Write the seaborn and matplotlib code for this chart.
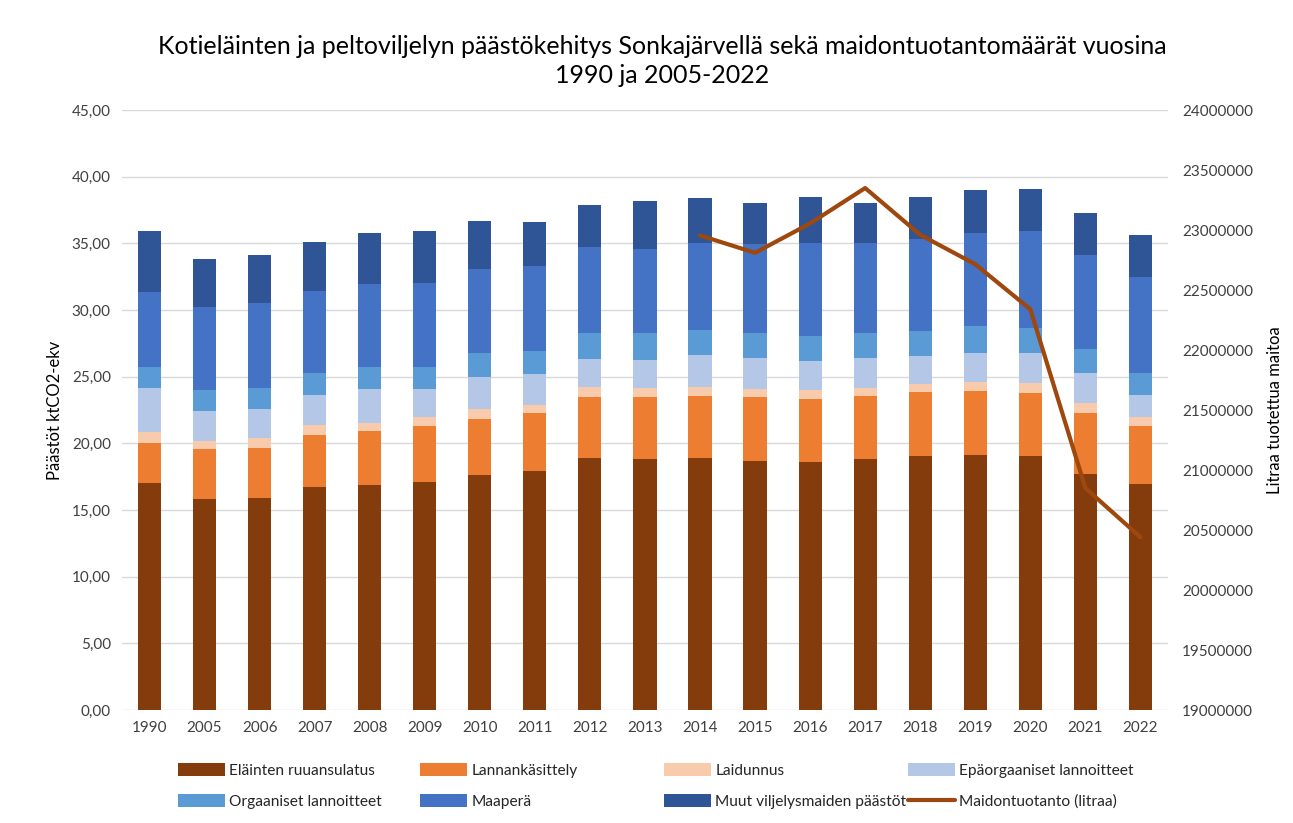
import matplotlib
matplotlib.use("Agg")
import matplotlib.pyplot as plt
import seaborn as sns
import numpy as np
import pandas as pd
from matplotlib.patches import Patch
from matplotlib.lines import Line2D
from matplotlib.ticker import FuncFormatter, MultipleLocator

years = ["1990", "2005", "2006", "2007", "2008", "2009", "2010", "2011", "2012", "2013",
         "2014", "2015", "2016", "2017", "2018", "2019", "2020", "2021", "2022"]

elainten = [17.0, 15.8, 15.9, 16.7, 16.9, 17.1, 17.6, 17.9, 18.9, 18.85,
            18.9, 18.7, 18.6, 18.85, 19.05, 19.1, 19.05, 17.7, 16.95]
lannank = [3.05, 3.75, 3.75, 3.95, 4.0, 4.2, 4.25, 4.35, 4.6, 4.6,
           4.65, 4.75, 4.7, 4.7, 4.8, 4.8, 4.7, 4.6, 4.35]
laidunnus = [0.8, 0.65, 0.75, 0.7, 0.65, 0.7, 0.7, 0.65, 0.75, 0.7,
             0.7, 0.65, 0.7, 0.6, 0.6, 0.7, 0.8, 0.7, 0.7]
epaorg = [3.3, 2.25, 2.2, 2.3, 2.5, 2.05, 2.4, 2.3, 2.05, 2.1,
          2.35, 2.3, 2.2, 2.25, 2.1, 2.2, 2.2, 2.3, 1.6]
orgaaniset = [1.6, 1.55, 1.55, 1.65, 1.7, 1.7, 1.8, 1.75, 2.0, 2.0,
              1.9, 1.9, 1.85, 1.85, 1.9, 2.0, 1.9, 1.8, 1.7]
maapera = [5.6, 6.2, 6.35, 6.15, 6.2, 6.3, 6.3, 6.35, 6.4, 6.35,
           6.5, 6.65, 6.95, 6.8, 6.85, 6.95, 7.25, 7.05, 7.2]
muut = [4.6, 3.6, 3.65, 3.65, 3.85, 3.85, 3.65, 3.3, 3.2, 3.6,
        3.4, 3.05, 3.5, 3.0, 3.15, 3.25, 3.2, 3.1, 3.15]

milk_years = ["2014", "2015", "2016", "2017", "2018", "2019", "2020", "2021", "2022"]
milk = [22955000, 22810000, 23055000, 23350000, 22960000, 22715000, 22340000, 20850000, 20440000]

series_names = ["Eläinten ruuansulatus", "Lannankäsittely", "Laidunnus", "Epäorgaaniset lannoitteet",
                "Orgaaniset lannoitteet", "Maaperä", "Muut viljelysmaiden päästöt"]
series_vals = [elainten, lannank, laidunnus, epaorg, orgaaniset, maapera, muut]
colors = ["#843C0C", "#ED7D31", "#F8CBAD", "#B4C7E7", "#5B9BD5", "#4472C4", "#2F5597"]
line_color = "#9E480E"
line_name = "Maidontuotanto (litraa)"

sns.set_theme(style="white")
plt.rcParams["font.family"] = ["Lato", "DejaVu Sans"]

W, H = 1293, 823
fig = plt.figure(figsize=(W / 100, H / 100), dpi=100)
ax = fig.add_axes([0.0943, 0.1373, 0.809, 0.729])

df = pd.DataFrame({"year": years})
cum = np.zeros(len(years))
for name, v in zip(series_names, series_vals):
    cum = cum + np.array(v)
    df[name] = cum.copy()

# draw from top (largest cumulative) to bottom
for name, col in reversed(list(zip(series_names, colors))):
    sns.barplot(data=df, x="year", y=name, color=col, width=0.42, ax=ax,
                saturation=1, edgecolor="none", linewidth=0, zorder=2)

ax.set_xlim(-0.5, len(years) - 0.5)
ax.set_ylim(0, 45)
ax.yaxis.set_major_locator(MultipleLocator(5))
ax.yaxis.set_major_formatter(FuncFormatter(lambda v, p: f"{v:.2f}".replace(".", ",")))
ax.grid(axis="y", color="#D9D9D9", linewidth=1, zorder=0)
ax.set_axisbelow(True)
for s in ax.spines.values():
    s.set_visible(False)
ax.set_xlabel("")
ax.set_ylabel("Päästöt ktCO2-ekv", fontsize=12, color="#000000", labelpad=6)
ax.tick_params(axis="both", labelsize=11, colors="#404040", length=0, pad=8)

ax2 = ax.twinx()
pos = [years.index(y) for y in milk_years]
mdf = pd.DataFrame({"x": pos, "milk": milk})
sns.lineplot(data=mdf, x="x", y="milk", color=line_color, linewidth=3, ax=ax2, zorder=3)
ax2.set_ylim(19000000, 24000000)
ax2.yaxis.set_major_locator(MultipleLocator(500000))
ax2.yaxis.set_major_formatter(FuncFormatter(lambda v, p: f"{int(round(v))}"))
for s in ax2.spines.values():
    s.set_visible(False)
ax2.set_xlabel("")
ax2.set_ylabel("Litraa tuotettua maitoa", fontsize=12, color="#000000", labelpad=10)
ax2.tick_params(axis="y", labelsize=11, colors="#404040", length=0, pad=10)
ax2.grid(False)

fig.suptitle("Kotieläinten ja peltoviljelyn päästökehitys Sonkajärvellä sekä maidontuotantomäärät vuosina\n1990 ja 2005-2022",
             fontsize=18, y=0.958, x=0.512, linespacing=1.35, color="#000000")

handles = [Patch(facecolor=c, edgecolor="none") for c in colors]
handles.append(Line2D([0], [0], color=line_color, linewidth=3))
labels = series_names + [line_name]
col_x = [178, 420, 664, 908]
for ci, x0 in enumerate(col_x):
    idx = [ci, ci + 4]
    fig.legend([handles[i] for i in idx], [labels[i] for i in idx], ncol=1,
               loc="upper left", bbox_to_anchor=(x0 / W, 1 - 763 / H), frameon=False,
               fontsize=11.2, handlelength=3.0, handleheight=0.9, borderpad=0,
               borderaxespad=0, labelspacing=1.05, handletextpad=0.3)

fig.savefig("out.png", dpi=100)
